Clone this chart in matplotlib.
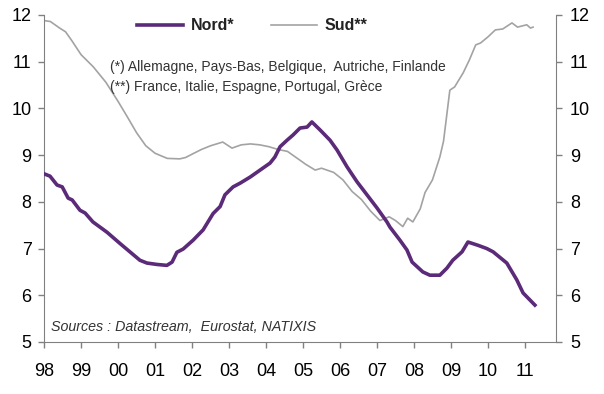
import matplotlib
matplotlib.use('Agg')
import matplotlib.pyplot as plt

plt.rcParams['font.family'] = ['Liberation Sans', 'DejaVu Sans']

# Nord* (thick purple)
nord_x = [1998.0, 1998.16, 1998.35, 1998.49, 1998.65, 1998.76, 1998.97, 1999.11,
          1999.32, 1999.70, 2000.05, 2000.32, 2000.59, 2000.78, 2001.05, 2001.32,
          2001.46, 2001.59, 2001.76, 2002.03, 2002.30, 2002.57, 2002.76, 2002.89,
          2003.11, 2003.30, 2003.57, 2003.84, 2004.11, 2004.24, 2004.38, 2004.57,
          2004.73, 2004.92, 2005.11, 2005.24, 2005.46, 2005.73, 2005.92, 2006.19,
          2006.46, 2006.73, 2007.0, 2007.27, 2007.35, 2007.62, 2007.81, 2007.95,
          2008.24, 2008.43, 2008.70, 2008.89, 2009.05, 2009.30, 2009.46, 2009.73,
          2009.97, 2010.14, 2010.51, 2010.78, 2010.95, 2011.27]
nord_y = [8.60, 8.55, 8.36, 8.32, 8.08, 8.04, 7.82, 7.76,
          7.57, 7.35, 7.11, 6.93, 6.75, 6.69, 6.66, 6.64,
          6.71, 6.92, 6.99, 7.18, 7.40, 7.75, 7.90, 8.15,
          8.32, 8.40, 8.53, 8.68, 8.83, 8.96, 9.18, 9.32,
          9.43, 9.58, 9.60, 9.71, 9.54, 9.32, 9.11, 8.75,
          8.43, 8.15, 7.87, 7.57, 7.46, 7.18, 6.97, 6.71,
          6.50, 6.43, 6.43, 6.58, 6.75, 6.93, 7.14, 7.07,
          7.00, 6.93, 6.69, 6.33, 6.05, 5.79]

# Sud** (thin grey)
sud_x = [1998.0, 1998.17, 1998.42, 1998.58, 1998.75, 1999.0, 1999.33, 1999.67,
         2000.0, 2000.25, 2000.5, 2000.75, 2001.0, 2001.33, 2001.67, 2001.83,
         2002.0, 2002.25, 2002.5, 2002.83, 2003.08, 2003.33, 2003.58, 2003.83,
         2004.08, 2004.33, 2004.58, 2004.83, 2005.08, 2005.33, 2005.5, 2005.83,
         2006.08, 2006.33, 2006.58, 2006.83, 2007.08, 2007.33, 2007.5, 2007.7,
         2007.83, 2007.97, 2008.17, 2008.3, 2008.5, 2008.7, 2008.8, 2008.97,
         2009.1, 2009.33, 2009.5, 2009.67, 2009.8, 2010.0, 2010.2, 2010.4,
         2010.65, 2010.8, 2011.05, 2011.15, 2011.22]
sud_y = [11.88, 11.86, 11.72, 11.64, 11.45, 11.15, 10.89, 10.56,
         10.15, 9.82, 9.48, 9.20, 9.04, 8.93, 8.92, 8.95,
         9.02, 9.12, 9.20, 9.28, 9.15, 9.22, 9.24, 9.22,
         9.18, 9.12, 9.08, 8.94, 8.80, 8.68, 8.72, 8.63,
         8.47, 8.22, 8.05, 7.80, 7.60, 7.68, 7.60, 7.47,
         7.65, 7.57, 7.85, 8.20, 8.47, 8.96, 9.30, 10.39,
         10.46, 10.76, 11.04, 11.36, 11.40, 11.53, 11.68, 11.70,
         11.83, 11.74, 11.79, 11.72, 11.74]

year_ticks = list(range(1998, 2012))
year_labels = ['98', '99', '00', '01', '02', '03', '04', '05', '06', '07', '08', '09', '10', '11']

purple = '#5b2a78'
grey = '#a3a3a3'
axis_col = '#808080'

fig = plt.figure(figsize=(6.04, 3.94), dpi=100)
ax = fig.add_axes([0.073, 0.132, 0.8475, 0.83])

ax.plot(sud_x, sud_y, color=grey, lw=1.2, label='Sud**', zorder=2)
ax.plot(nord_x, nord_y, color=purple, lw=2.6, label='Nord*', zorder=3)

ax.set_xlim(1998, 2011.84)
ax.set_ylim(5, 12)
ax.set_xticks(year_ticks)
ax.set_xticklabels(year_labels)
ax.set_yticks(range(5, 13))

ax2 = ax.twinx()
ax2.set_ylim(5, 12)
ax2.set_yticks(range(5, 13))

for a in (ax, ax2):
    for s in a.spines.values():
        s.set_color(axis_col)
    a.spines['top'].set_visible(False)
    a.tick_params(colors=axis_col, labelcolor='black', labelsize=13, length=4, width=1)
ax.spines['right'].set_visible(False)
ax2.spines['left'].set_visible(False)
ax2.spines['bottom'].set_visible(False)
ax.tick_params(axis='x', pad=11)
ax.tick_params(axis='y', pad=5)
ax2.tick_params(axis='y', pad=6)

h, l = ax.get_legend_handles_labels()
leg = ax.legend([h[1], h[0]], [l[1], l[0]], ncol=2, frameon=False,
                loc='center left', bbox_to_anchor=(137 / 604, 1 - 26 / 394),
                bbox_transform=fig.transFigure, fontsize=11.5,
                borderpad=0, borderaxespad=0,
                handlelength=2.9, columnspacing=2.3, handletextpad=0.45)
for t in leg.get_texts():
    t.set_fontweight('bold')
    t.set_color('#222222')

ax.text(0.128, 0.828, '(*) Allemagne, Pays-Bas, Belgique,  Autriche, Finlande',
        transform=ax.transAxes, fontsize=10, color='#333333')
ax.text(0.128, 0.767, '(**) France, Italie, Espagne, Portugal, Grèce',
        transform=ax.transAxes, fontsize=10, color='#333333')
ax.text(0.014, 0.035, 'Sources : Datastream,  Eurostat, NATIXIS',
        transform=ax.transAxes, fontsize=10.3, style='italic', color='#333333')

fig.savefig('out.png', dpi=100, facecolor='white')
